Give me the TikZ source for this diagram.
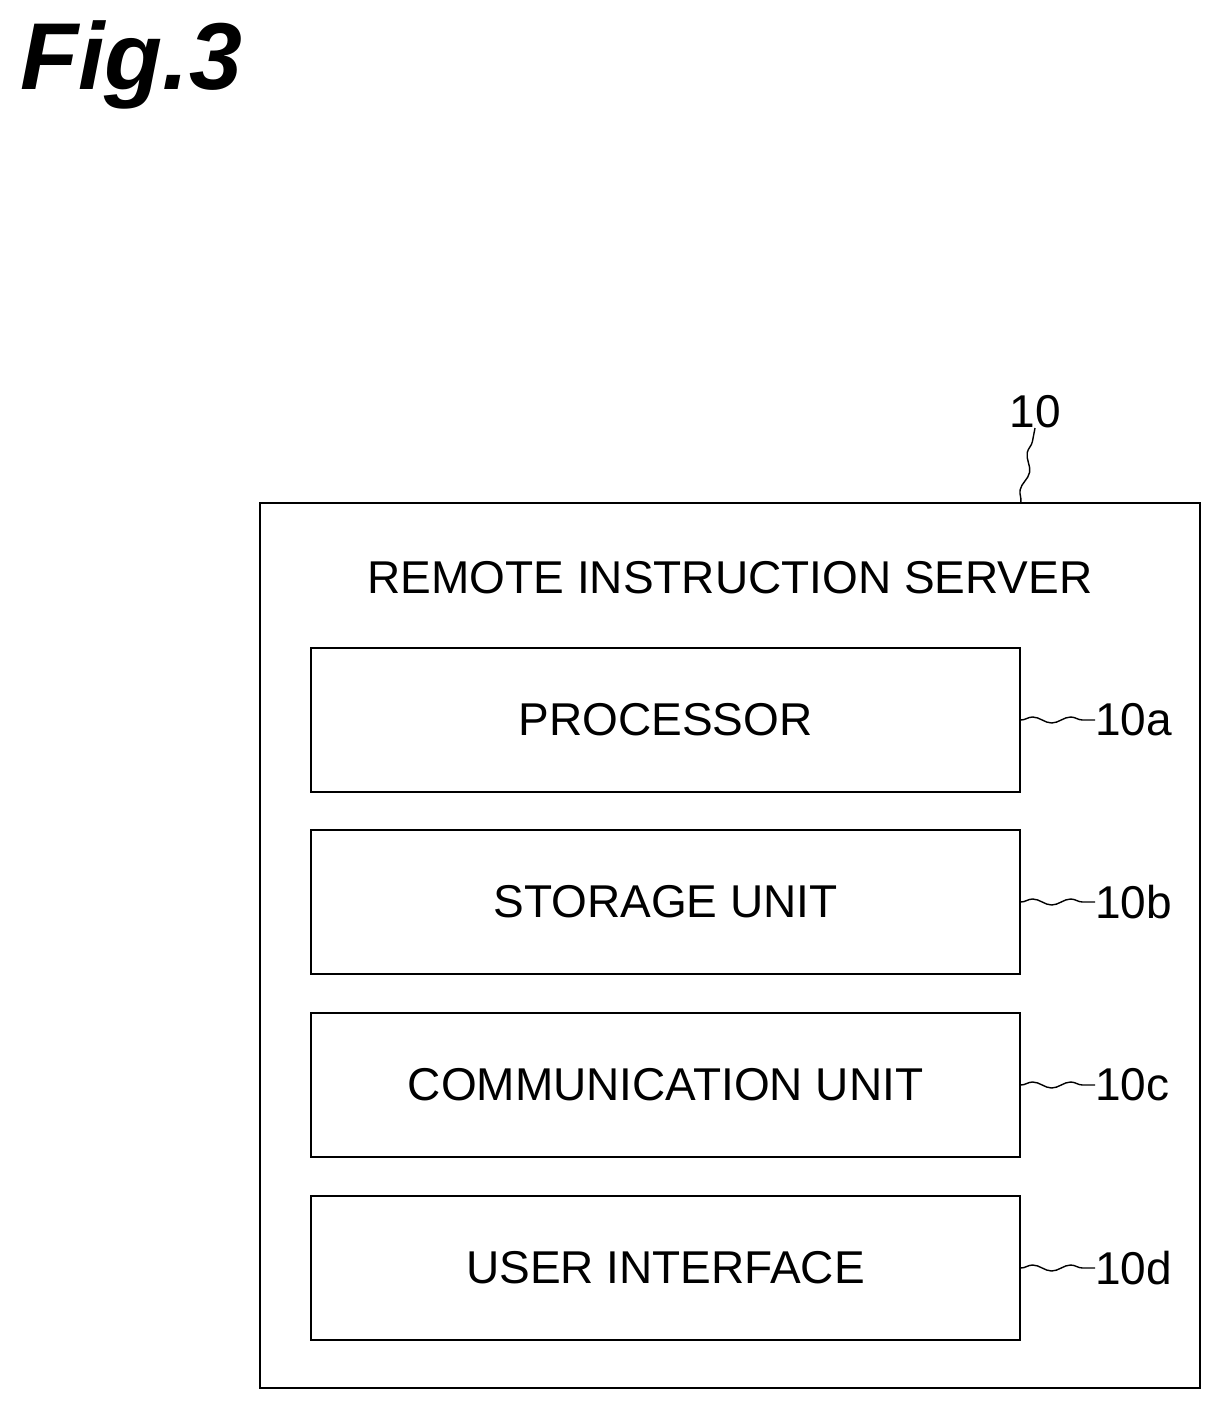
\documentclass[tikz,border=0pt]{standalone}
\usepackage{fontspec}
\setmainfont{Liberation Sans}
\usetikzlibrary{decorations.pathmorphing}
\begin{document}
\begin{tikzpicture}[x=1pt,y=-1pt,
  box/.style={draw,line width=1.6pt,inner sep=0pt},
  lbl/.style={font=\fontsize{46}{46}\selectfont},
  ref/.style={font=\fontsize{46}{46}\selectfont,anchor=west,inner sep=0pt},
  sq/.style={line width=1.4pt,decorate,decoration={snake,amplitude=3pt,segment length=38pt}}]
\useasboundingbox (0,0) rectangle (1223,1410);
\node[anchor=north west,inner sep=0pt,font=\fontsize{95}{95}\selectfont\bfseries\itshape] (fig) at (20,20) {Fig.3};
\node[box,minimum width=940pt,minimum height=885pt] (outer) at (730,945.5) {};
\node[lbl] (title) at (730,578) {REMOTE INSTRUCTION SERVER};
\node[ref,anchor=south] (r10) at (1035,428) {10};
\draw[sq] (outer.north east) ++(-180,0) coordinate (o1) -- (r10.south);
\foreach \n/\y/\t/\r in {a/720/PROCESSOR/10a,b/902/STORAGE UNIT/10b,c/1085/COMMUNICATION UNIT/10c,d/1268/USER INTERFACE/10d}{
  \node[box,minimum width=709pt,minimum height=144pt,lbl] (b\n) at (665.5,\y) {\t};
  \node[ref] (l\n) at (1095,\y) {\r};
  \draw[sq] (b\n.east) -- (l\n.west);
}
\end{tikzpicture}
\end{document}
